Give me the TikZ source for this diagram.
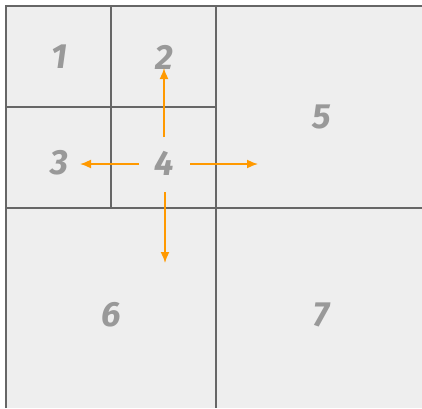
\documentclass[tikz,border=0pt]{standalone}
\usepackage{fontspec}
\setmainfont{Fira Sans}
\usetikzlibrary{arrows.meta}
\definecolor{cellfill}{HTML}{EEEEEE}
\definecolor{gridline}{HTML}{666666}
\definecolor{labelgray}{HTML}{999999}
\definecolor{arroworange}{HTML}{FF9900}
\tikzset{
  grid line/.style={draw=gridline, line width=2pt},
  cell label/.style={text=labelgray, font=\fontsize{35}{35}\selectfont\bfseries\itshape, inner sep=0pt},
  move arrow/.style={draw=arroworange, line width=1.6pt, -{Latex[length=11pt,width=9pt]}}
}
\begin{document}
\begin{tikzpicture}[x=1pt,y=-1pt]
\useasboundingbox (0,0) rectangle (422,408);
\fill[white] (0,0) rectangle (422,408);
\fill[cellfill] (6,6) rectangle (422,408);
% grid
\draw[grid line] (6,408) -- (6,6) -- (422,6);
\draw[grid line] (6,107) -- (216,107);
\draw[grid line] (6,208) -- (422,208);
\draw[grid line] (111,6) -- (111,208);
\draw[grid line] (216,6) -- (216,408);
% labels
\node[cell label] (c1) at (59,57) {1};
\node[cell label] (c2) at (164,57) {2};
\node[cell label] (c3) at (59,163) {3};
\node[cell label] (c4) at (164,163) {4};
\node[cell label] (c5) at (322,117) {5};
\node[cell label] (c6) at (111,315) {6};
\node[cell label] (c7) at (322,315) {7};
% arrow ends
\coordinate (uS) at (164,137);
\coordinate (uE) at (164,68);
\coordinate (lS) at (139,164);
\coordinate (lE) at (80,164);
\coordinate (rS) at (190,164);
\coordinate (rE) at (258,164);
\coordinate (dS) at (165,192);
\coordinate (dE) at (165,263);
\draw[move arrow] (uS) -- (uE);
\draw[move arrow] (lS) -- (lE);
\draw[move arrow] (rS) -- (rE);
\draw[move arrow] (dS) -- (dE);
\end{tikzpicture}
\end{document}
